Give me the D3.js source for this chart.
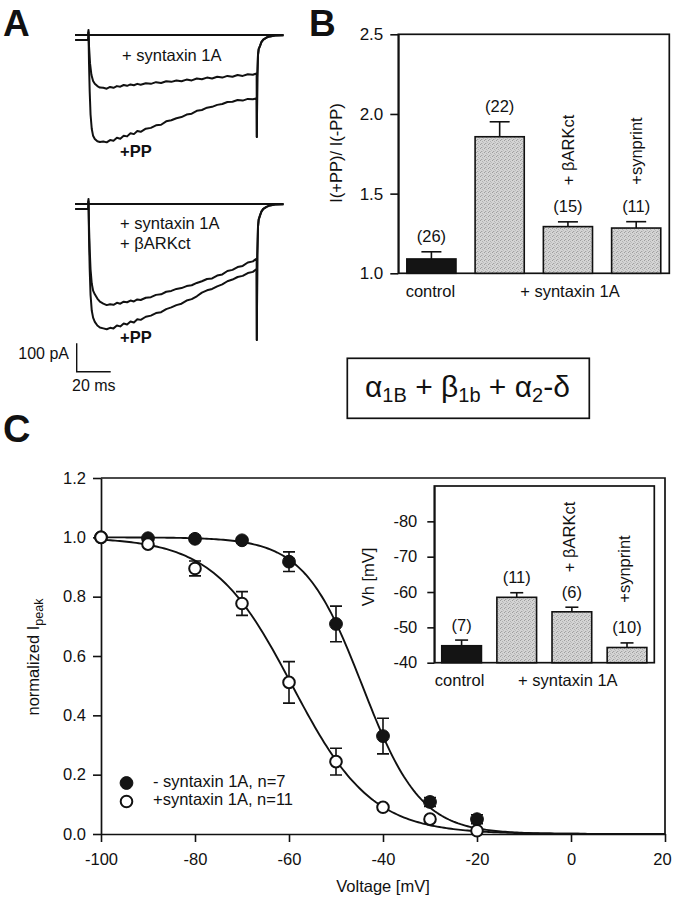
<!DOCTYPE html>
<html><head><meta charset="utf-8">
<script src="https://cdn.jsdelivr.net/npm/d3@7"></script>
<style>
body{margin:0;background:#fff}
svg{display:block}
text{font-family:"Liberation Sans",Arial,Helvetica,sans-serif;fill:#111}
</style>
</head><body>
<svg id="fig" width="673" height="900"></svg>
<script>
// ---------------- DATA ----------------
// Panel A: current traces, [time ms from step onset, current pA]
const traceA1Syntaxin = [[-7.6,0],[0,0],[0.3,18],[0.6,-40],[1.2,-100],[2,-140],[3,-162],[4,-172],[5.5,-180],[7,-185],[9,-186],[11,-189],[13,-183],[15,-186],[17,-180],[19,-182],[21,-176],[23,-179],[25,-174],[27,-177],[29,-172],[31,-175],[34,-170],[37,-172],[40,-166],[43,-169],[46,-163],[49,-165],[52,-160],[55,-163],[58,-157],[61,-160],[64,-153],[67,-156],[70,-150],[73,-153],[76,-147],[79,-150],[82,-144],[85,-147],[88,-141],[91,-144],[94,-138],[97,-140],[99.2,-135]];
const traceA1PP = [[-7.6,-18],[0,-18],[0.3,10],[0.6,-100],[1,-200],[1.5,-280],[2.2,-330],[3,-355],[4,-366],[5.5,-374],[7,-377],[9,-375],[11,-378],[13,-370],[15,-372],[17,-362],[19,-365],[21,-355],[23,-357],[25,-346],[27,-349],[29,-338],[31,-341],[34,-330],[37,-327],[40,-318],[43,-316],[46,-304],[49,-300],[52,-293],[55,-289],[58,-280],[61,-277],[64,-267],[67,-264],[70,-256],[73,-253],[76,-246],[79,-243],[82,-236],[85,-235],[88,-229],[91,-231],[94,-225],[97,-226],[99.2,-223]];
const tailA1 = [[99.3,-359],[99.6,-150],[100,-70],[100.4,-50],[101.2,-38],[102,-25],[103.1,-16],[105,-9],[107,-5],[110,-2],[115,-1]];
const traceA2SyntaxinBARK = [[-7.6,0],[0,0],[0.3,18],[0.6,-80],[1,-160],[1.5,-230],[2.2,-280],[3,-305],[4,-318],[5.5,-333],[7,-344],[9,-351],[11,-356],[13,-353],[15,-355],[17,-348],[19,-351],[21,-344],[23,-346],[25,-340],[27,-343],[29,-336],[31,-338],[34,-330],[37,-328],[40,-320],[43,-318],[46,-309],[49,-306],[52,-299],[55,-296],[58,-289],[61,-286],[64,-278],[67,-272],[70,-264],[73,-262],[76,-252],[79,-248],[82,-236],[85,-232],[88,-222],[91,-218],[94,-206],[97,-202],[99.2,-192]];
const traceA2PP = [[-7.6,-18],[0,-18],[0.3,10],[0.6,-120],[1,-230],[1.5,-320],[2.2,-375],[3,-400],[4,-415],[5.5,-428],[7,-435],[9,-438],[11,-441],[13,-436],[15,-438],[17,-428],[19,-431],[21,-421],[23,-424],[25,-414],[27,-417],[29,-406],[31,-408],[34,-397],[37,-393],[40,-384],[43,-381],[46,-370],[49,-364],[52,-356],[55,-351],[58,-340],[61,-335],[64,-325],[67,-312],[70,-304],[73,-299],[76,-290],[79,-283],[82,-272],[85,-266],[88,-257],[91,-253],[94,-243],[97,-239],[99.2,-229]];
const tailA2 = [[99.3,-479],[99.6,-180],[100,-80],[100.4,-55],[101.2,-40],[102,-27],[103.1,-17],[105,-10],[107,-5],[110,-2],[115,-1]];
const scaleBarPA = 100, scaleBarMS = 20;

// Panel B: I(+PP)/I(-PP)
const barCategories = ["control","syntaxin","syntaxin+bARKct","syntaxin+synprint"];
const ratioValues = [1.09,1.857,1.293,1.284];
const ratioErrors = [0.045,0.094,0.03,0.04];
const ratioN = ["(26)","(22)","(15)","(11)"];
const ratioTicks = [1.0,1.5,2.0,2.5];

// Panel C: steady-state inactivation
const voltages = [-100,-90,-80,-70,-60,-50,-40,-30,-20];
const ctrlIpeak = [1.0,0.997,0.995,0.99,0.918,0.708,0.33,0.108,0.05];
const ctrlErr = [0,0,0.008,0.008,0.033,0.06,0.06,0.015,0.015];
const syxIpeak = [1.0,0.977,0.895,0.777,0.511,0.244,0.09,0.05,0.011];
const syxErr = [0,0.005,0.025,0.04,0.07,0.045,0.008,0.008,0.005];
const fitCtrl = {vh:-44.4, k:6.2};
const fitSyx = {vh:-59.3, k:8.4};
const xTicksC = [-100,-80,-60,-40,-20,0,20];
const yTicksC = [0.0,0.2,0.4,0.6,0.8,1.0,1.2];

// Panel C inset: Vh
const vhValues = [-44.8,-58.5,-54.4,-44.3];
const vhErrors = [1.6,1.3,1.3,1.3];
const vhN = ["(7)","(11)","(6)","(10)"];
const vhTicks = [-80,-70,-60,-50,-40];

// ---------------- DRAW ----------------
const ink = "#111";
const FONT = '"Liberation Sans",Arial,Helvetica,sans-serif';
const svg = d3.select("#fig");
svg.append("rect").attr("width",673).attr("height",900).attr("fill","#fff");

const defs = svg.append("defs");
const pat = defs.append("pattern").attr("id","stipple").attr("patternUnits","userSpaceOnUse")
  .attr("width",4).attr("height",4);
pat.append("rect").attr("width",4).attr("height",4).attr("fill","#d4d4d4");
[[0,0,"#9e9e9e"],[2,1,"#b2b2b2"],[1,3,"#a4a4a4"],[3,2,"#bcbcbc"],[2,3,"#c4c4c4"]].forEach(p=>{
  pat.append("rect").attr("x",p[0]).attr("y",p[1]).attr("width",1).attr("height",1).attr("fill",p[2]);
});

function styleAxis(g, fs){
  g.attr("font-family",FONT);
  g.selectAll("path.domain").attr("stroke",ink).attr("stroke-width",1.7);
  g.selectAll(".tick line").attr("stroke",ink).attr("stroke-width",1.6);
  g.selectAll(".tick text").attr("fill",ink).style("font-size",fs+"px");
}
function label(x,y,txt,opt={}){
  const t = svg.append("text").attr("x",x).attr("y",y).text(txt)
    .style("font-size",(opt.size||16.5)+"px");
  if(opt.anchor) t.attr("text-anchor",opt.anchor);
  if(opt.bold) t.style("font-weight","bold");
  if(opt.rot) t.attr("transform",`rotate(-90,${x},${y})`);
  return t;
}

// Panel letters
label(3,36,"A",{size:37,bold:true});
label(309,36,"B",{size:37,bold:true});
label(3,442,"C",{size:38,bold:true});

// ---------- Panel A ----------
const xA = d3.scaleLinear().domain([0,100]).range([88,258]);
const yA1 = d3.scaleLinear().domain([0,-100]).range([35,63.4]);
const yA2 = d3.scaleLinear().domain([0,-100]).range([204,232.4]);
function drawTraces(yS, traces){
  svg.append("line").attr("x1",xA(-7.6)).attr("x2",xA(115)).attr("y1",yS(0)).attr("y2",yS(0))
    .attr("stroke",ink).attr("stroke-width",1.8);
  const ln = d3.line().x(d=>xA(d[0])).y(d=>yS(d[1]));
  traces.forEach(tr=>{
    svg.append("path").attr("d",ln(tr)).attr("fill","none").attr("stroke",ink)
      .attr("stroke-width",2).attr("stroke-linejoin","round");
  });
}
drawTraces(yA1,[traceA1Syntaxin.concat(tailA1), traceA1PP.concat(tailA1)]);
drawTraces(yA2,[traceA2SyntaxinBARK.concat(tailA2), traceA2PP.concat(tailA2)]);
label(122,61,"+ syntaxin 1A");
label(120,157,"+PP",{bold:true});
label(120,229,"+ syntaxin 1A");
label(120,249,"+ βARKct");
label(120,343,"+PP",{bold:true});
// scale bar
const sbX = 76.7, sbY = 371.7;
const pxPA = yA2(-scaleBarPA)-yA2(0), pxMS = xA(scaleBarMS)-xA(0);
svg.append("path").attr("d",`M${sbX},${sbY-pxPA}V${sbY}H${sbX+pxMS}`)
  .attr("fill","none").attr("stroke",ink).attr("stroke-width",1.4);
label(69,359,"100 pA",{anchor:"end",size:16});
label(72,391,"20 ms",{size:16});

// ---------- Panel B ----------
const bL=398.3,bR=669.3,bT=34.3,bB=273.3;
const xB = d3.scaleBand().domain(barCategories).range([bL,bR]).paddingInner(0.28).paddingOuter(0.125);
const yB = d3.scaleLinear().domain([1,2.5]).range([bB,bT]);
svg.append("rect").attr("x",bL).attr("y",bT).attr("width",bR-bL).attr("height",bB-bT)
  .attr("fill","none").attr("stroke",ink).attr("stroke-width",1.7);
const gBy = svg.append("g").attr("transform",`translate(${bL},0)`)
  .call(d3.axisLeft(yB).tickValues(ratioTicks).tickFormat(d3.format(".1f")).tickSize(8).tickPadding(7).tickSizeOuter(0));
styleAxis(gBy,17);
barCategories.forEach((c,i)=>{
  const x0 = xB(c), w = xB.bandwidth(), cx = x0+w/2;
  const top = yB(ratioValues[i]), et = yB(ratioValues[i]+ratioErrors[i]);
  svg.append("line").attr("x1",cx).attr("x2",cx).attr("y1",top).attr("y2",et).attr("stroke",ink).attr("stroke-width",1.6);
  svg.append("line").attr("x1",cx-10).attr("x2",cx+10).attr("y1",et).attr("y2",et).attr("stroke",ink).attr("stroke-width",1.6);
  svg.append("rect").attr("x",x0).attr("y",top).attr("width",w).attr("height",bB-top)
    .attr("fill", i===0?"#141414":"url(#stipple)").attr("stroke",ink).attr("stroke-width",1.6);
  label(cx,et-9.5,ratioN[i],{anchor:"middle",size:16.5});
});
label(xB(barCategories[2])+xB.bandwidth()/2+6,150,"+ βARKct",{anchor:"middle",rot:true,size:16.5});
label(xB(barCategories[3])+xB.bandwidth()/2+6,151,"+synprint",{anchor:"middle",rot:true,size:16.5});
label(xB(barCategories[0])+xB.bandwidth()/2-1,297,"control",{anchor:"middle",size:16.5});
label(xB(barCategories[2])+xB.bandwidth()/2+2,297,"+ syntaxin 1A",{anchor:"middle",size:16.5});
label(342,153,"I(+PP)/ I(-PP)",{anchor:"middle",rot:true,size:16.5});

// formula box
svg.append("rect").attr("x",347.3).attr("y",358.3).attr("width",242).attr("height",60)
  .attr("fill","none").attr("stroke",ink).attr("stroke-width",1.7);
const bt = svg.append("text").attr("x",365).attr("y",397).style("font-size","30px");
bt.append("tspan").text("α");
bt.append("tspan").attr("dy",5).style("font-size","20px").text("1B");
bt.append("tspan").attr("dy",-5).text(" + β");
bt.append("tspan").attr("dy",5).style("font-size","20px").text("1b");
bt.append("tspan").attr("dy",-5).text(" + α");
bt.append("tspan").attr("dy",5).style("font-size","20px").text("2");
bt.append("tspan").attr("dy",-5).text("-δ");

// ---------- Panel C ----------
const cL=101,cR=665,cT=478,cB=834;
const xC = d3.scaleLinear().domain([-100,20]).range([cL,cR]);
const yC = d3.scaleLinear().domain([0,1.2]).range([cB,cT]);
svg.append("path").attr("d",`M${cL},${cT}H${cR}V${cB}`).attr("fill","none").attr("stroke",ink).attr("stroke-width",1.7);
const gCx = svg.append("g").attr("transform",`translate(0,${cB})`)
  .call(d3.axisBottom(xC).tickValues(xTicksC).tickFormat(d=>String(d)).tickSize(8).tickPadding(11).tickSizeOuter(0));
styleAxis(gCx,16.5);
gCx.selectAll(".tick text").filter(d=>d===20).attr("dx",-3);
const gCy = svg.append("g").attr("transform",`translate(${cL},0)`)
  .call(d3.axisLeft(yC).tickValues(yTicksC).tickFormat(d3.format(".1f")).tickSize(8).tickPadding(7).tickSizeOuter(0));
styleAxis(gCy,16.5);
label((cL+cR)/2,892,"Voltage [mV]",{anchor:"middle",size:16.5});
const yl = svg.append("text").attr("transform","translate(39,657) rotate(-90)").attr("text-anchor","middle").style("font-size","16.5px");
yl.append("tspan").text("normalized I");
yl.append("tspan").attr("dy",4).style("font-size","12.5px").text("peak");

// fit curves (Boltzmann fits)
function boltz(p){ return d3.range(-100,20.01,0.5).map(v=>[v, 1/(1+Math.exp((v-p.vh)/p.k))]); }
const lnC = d3.line().x(d=>xC(d[0])).y(d=>yC(d[1]));
[fitCtrl,fitSyx].forEach(p=>{
  svg.append("path").attr("d",lnC(boltz(p))).attr("fill","none").attr("stroke",ink).attr("stroke-width",1.9);
});
function drawSeries(vals, errs, filled){
  voltages.forEach((v,i)=>{
    if(errs[i]>0){
      const x=xC(v), y1=yC(vals[i]+errs[i]), y2=yC(vals[i]-errs[i]);
      svg.append("path").attr("d",`M${x-6},${y1}H${x+6}M${x},${y1}V${y2}M${x-6},${y2}H${x+6}`)
        .attr("fill","none").attr("stroke",ink).attr("stroke-width",1.6);
    }
  });
  voltages.forEach((v,i)=>{
    svg.append("circle").attr("cx",xC(v)).attr("cy",yC(vals[i])).attr("r",filled?6.4:5.8)
      .attr("fill",filled?"#141414":"#fff").attr("stroke",ink).attr("stroke-width",filled?1:2);
  });
}
drawSeries(ctrlIpeak,ctrlErr,true);
drawSeries(syxIpeak,syxErr,false);
// legend
svg.append("circle").attr("cx",126.5).attr("cy",783).attr("r",6.4).attr("fill","#141414").attr("stroke",ink);
svg.append("circle").attr("cx",126.5).attr("cy",801.5).attr("r",5.8).attr("fill","#fff").attr("stroke",ink).attr("stroke-width",2);
label(153,787,"- syntaxin 1A, n=7");
label(153,805,"+syntaxin 1A, n=11");

// ---------- Inset ----------
const iL=434.3,iR=654.3,iT=486,iB=662.7;
const xI = d3.scaleBand().domain(barCategories).range([iL,iR]).paddingInner(0.28).paddingOuter(0.135);
const yI = d3.scaleLinear().domain([-40,-90]).range([iB,iT]);
svg.append("rect").attr("x",iL).attr("y",iT).attr("width",iR-iL).attr("height",iB-iT)
  .attr("fill","#fff").attr("stroke",ink).attr("stroke-width",1.7);
const gIy = svg.append("g").attr("transform",`translate(${iL},0)`)
  .call(d3.axisLeft(yI).tickValues(vhTicks).tickFormat(d=>String(d)).tickSize(7).tickPadding(10).tickSizeOuter(0));
styleAxis(gIy,16.5);
barCategories.forEach((c,i)=>{
  const x0 = xI(c), w = xI.bandwidth(), cx = x0+w/2;
  const top = yI(vhValues[i]), et = yI(vhValues[i]-vhErrors[i]);
  svg.append("line").attr("x1",cx).attr("x2",cx).attr("y1",top).attr("y2",et).attr("stroke",ink).attr("stroke-width",1.6);
  svg.append("line").attr("x1",cx-6.5).attr("x2",cx+6.5).attr("y1",et).attr("y2",et).attr("stroke",ink).attr("stroke-width",1.6);
  svg.append("rect").attr("x",x0).attr("y",top).attr("width",w).attr("height",iB-top)
    .attr("fill", i===0?"#141414":"url(#stipple)").attr("stroke",ink).attr("stroke-width",1.6);
  label(cx,et-9.5,vhN[i],{anchor:"middle",size:16.5});
});
label(xI(barCategories[2])+xI.bandwidth()/2+3,537,"+ βARKct",{anchor:"middle",rot:true,size:16.5});
label(xI(barCategories[3])+xI.bandwidth()/2+3,569,"+synprint",{anchor:"middle",rot:true,size:16.5});
label(xI(barCategories[0])+xI.bandwidth()/2-2,686,"control",{anchor:"middle",size:16.5});
label(xI(barCategories[2])+xI.bandwidth()/2-4,686,"+ syntaxin 1A",{anchor:"middle",size:16.5});
label(374,577,"Vh [mV]",{anchor:"middle",rot:true,size:16.5});
</script>
</body></html>
